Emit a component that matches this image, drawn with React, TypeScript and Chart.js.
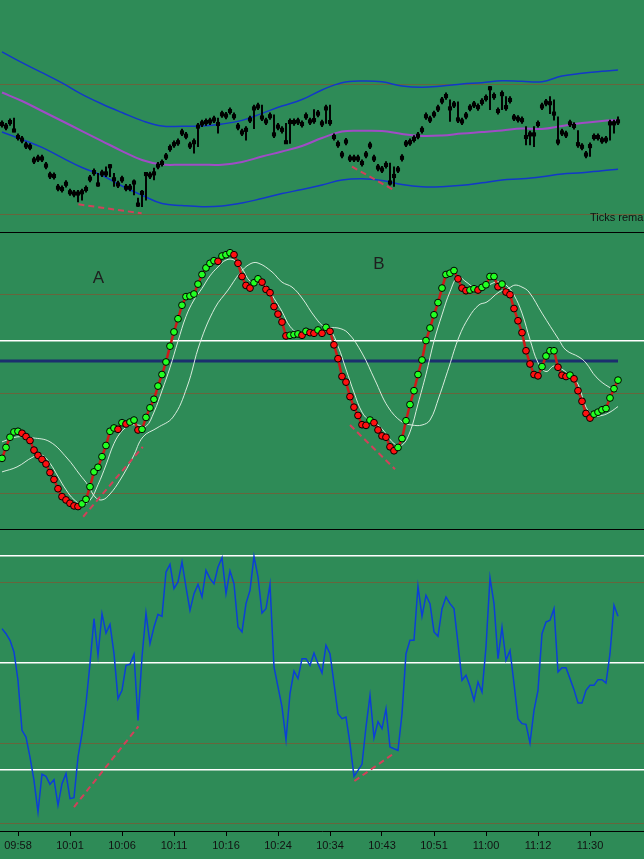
import React, { useEffect, useRef } from "react";
import { Chart, registerables } from "chart.js";

Chart.register(...registerables);

// ---------- shared ----------
const BG = "#2E8B57";
const GRID_BROWN = "rgba(150,70,40,0.55)";
const FONT = '"Liberation Sans", Arial, sans-serif';
const X_MIN = -0.5;
const X_MAX = 160.5;

const timeLabels = ["09:58", "10:01", "10:06", "10:11", "10:16", "10:24", "10:34", "10:43", "10:51", "11:00", "11:12", "11:30"];
const timeTickIdx = [4, 17, 30, 43, 56, 69, 82, 95, 108, 121, 134, 147];

// ---------- top panel: price bars ----------
const barClose = [
  2057.0, 2056.8, 2057.15, 2056.5, 2056.0, 2055.8, 2055.35, 2055.25, 2054.2, 2054.35,
  2054.35, 2053.8, 2053.05, 2053.0, 2052.1, 2052.0, 2052.4, 2051.75, 2051.65, 2051.65,
  2051.75, 2052.0, 2052.8, 2053.3, 2052.35, 2053.2, 2053.2, 2053.75, 2052.75, 2052.35,
  2052.75, 2052.1, 2052.1, 2052.5, 2050.8, 2051.7, 2053.15, 2053.05, 2053.2, 2053.8,
  2054.0, 2054.5, 2055.15, 2055.45, 2055.6, 2056.35, 2056.1, 2055.35, 2055.6, 2056.8,
  2057.05, 2057.15, 2057.2, 2057.35, 2057.0, 2057.75, 2057.65, 2058.0, 2057.6, 2056.8,
  2056.35, 2056.55, 2057.35, 2058.2, 2058.35, 2057.5, 2057.2, 2057.6, 2056.2, 2056.8,
  2056.55, 2055.6, 2057.15, 2057.15, 2057.2, 2057.0, 2057.6, 2057.2, 2057.3, 2057.8,
  2057.05, 2058.2, 2057.15, 2056.0, 2055.45, 2054.65, 2055.65, 2054.35, 2054.35, 2054.35,
  2054.0, 2054.65, 2055.35, 2054.35, 2053.65, 2053.5, 2053.85, 2052.5, 2053.0, 2053.5,
  2054.4, 2055.5, 2055.6, 2055.85, 2056.1, 2056.55, 2057.6, 2057.35, 2057.75, 2058.2,
  2058.8, 2059.15, 2058.2, 2058.5, 2057.35, 2057.2, 2057.65, 2058.25, 2058.5, 2058.3,
  2058.7, 2059.0, 2059.75, 2059.15, 2058.0, 2059.3, 2058.3, 2058.85, 2057.5, 2057.4,
  2057.3, 2056.0, 2056.2, 2056.2, 2057.0, 2058.35, 2058.65, 2058.6, 2057.8, 2055.65,
  2056.35, 2056.2, 2057.05, 2056.85, 2055.45, 2055.25, 2054.65, 2055.3, 2056.0, 2056.0,
  2055.75, 2055.8, 2057.05, 2057.05, 2057.2,
];
const barHigh = [
  2057.25, 2057.05, 2057.4, 2057.45, 2056.25, 2056.05, 2055.6, 2055.5, 2054.45, 2054.6,
  2054.6, 2054.05, 2053.3, 2053.25, 2052.35, 2052.25, 2052.65, 2052.0, 2051.9, 2051.9,
  2052.0, 2052.25, 2053.05, 2053.55, 2053.2, 2053.45, 2053.7, 2053.9, 2053.2, 2052.6,
  2053.0, 2052.35, 2052.35, 2052.7, 2051.3, 2051.9, 2053.2, 2053.3, 2053.6, 2054.05,
  2054.25, 2054.75, 2055.4, 2055.7, 2055.85, 2056.6, 2056.35, 2055.6, 2055.85, 2057.05,
  2057.3, 2057.4, 2057.45, 2057.6, 2057.45, 2058.0, 2057.9, 2058.25, 2057.85, 2057.05,
  2056.6, 2056.8, 2057.6, 2058.45, 2058.6, 2058.45, 2057.45, 2057.85, 2057.7, 2057.05,
  2056.8, 2057.05, 2057.4, 2057.4, 2057.45, 2057.25, 2057.85, 2057.45, 2058.1, 2058.05,
  2057.3, 2058.45, 2058.45, 2056.25, 2055.7, 2054.9, 2055.9, 2054.6, 2054.6, 2054.6,
  2054.25, 2054.9, 2055.6, 2054.6, 2053.9, 2053.75, 2054.1, 2054.0, 2053.7, 2053.75,
  2054.65, 2055.75, 2055.85, 2056.1, 2056.35, 2056.8, 2057.85, 2057.6, 2058.0, 2058.45,
  2059.05, 2059.4, 2058.85, 2058.75, 2058.7, 2057.45, 2057.9, 2058.5, 2058.75, 2058.55,
  2058.95, 2059.25, 2059.9, 2059.4, 2058.25, 2059.55, 2059.1, 2059.1, 2057.75, 2057.65,
  2057.55, 2056.8, 2056.45, 2056.8, 2057.25, 2058.6, 2058.9, 2059.1, 2058.85, 2057.55,
  2056.6, 2056.45, 2057.3, 2057.1, 2056.5, 2055.5, 2054.9, 2055.55, 2056.25, 2056.25,
  2056.0, 2056.05, 2057.3, 2057.3, 2057.55,
];
const barLow = [
  2056.75, 2056.55, 2056.9, 2056.4, 2055.75, 2055.55, 2055.1, 2055.0, 2053.95, 2054.1,
  2054.1, 2053.55, 2052.8, 2052.75, 2051.85, 2051.75, 2052.15, 2051.5, 2051.4, 2051.0,
  2051.15, 2051.75, 2052.55, 2053.05, 2052.2, 2052.95, 2052.95, 2052.95, 2052.2, 2052.1,
  2052.5, 2051.85, 2051.85, 2051.55, 2050.65, 2050.65, 2051.15, 2052.8, 2052.7, 2053.55,
  2053.75, 2054.25, 2054.9, 2055.2, 2055.35, 2056.1, 2055.85, 2055.1, 2054.75, 2055.25,
  2056.8, 2056.9, 2056.95, 2057.1, 2056.3, 2057.5, 2057.4, 2057.75, 2057.35, 2056.55,
  2056.1, 2055.75, 2057.1, 2056.65, 2058.1, 2057.25, 2056.95, 2057.35, 2055.95, 2056.55,
  2056.3, 2055.5, 2055.5, 2056.9, 2056.95, 2056.75, 2057.35, 2056.95, 2057.05, 2057.55,
  2056.8, 2057.05, 2056.9, 2055.75, 2055.2, 2054.4, 2055.4, 2054.1, 2054.1, 2054.1,
  2053.75, 2054.4, 2055.1, 2054.1, 2053.4, 2053.25, 2053.6, 2052.3, 2052.2, 2053.25,
  2054.15, 2055.25, 2055.35, 2055.6, 2055.85, 2056.3, 2057.35, 2057.1, 2057.5, 2057.95,
  2058.55, 2058.9, 2057.2, 2058.25, 2057.1, 2056.95, 2057.4, 2058.0, 2058.25, 2058.05,
  2058.45, 2058.75, 2058.1, 2058.9, 2057.75, 2058.1, 2058.05, 2058.6, 2057.25, 2057.15,
  2057.05, 2055.4, 2055.4, 2055.25, 2056.75, 2058.1, 2058.4, 2057.8, 2057.3, 2055.4,
  2056.1, 2055.95, 2056.8, 2056.6, 2055.2, 2055.0, 2054.4, 2054.5, 2055.75, 2055.75,
  2055.5, 2055.55, 2055.75, 2056.3, 2056.95,
];

// envelope bands sampled along the bar index
const bandIdx = [0, 5, 10, 15, 20, 25, 30, 35, 40, 45, 50, 55, 60, 65, 70, 75, 80, 85, 90, 95, 100, 105, 110, 115, 120, 125, 130, 135, 140, 145, 150, 154];
const bandUpper = [2062.55, 2061.72, 2060.95, 2060.16, 2059.28, 2058.54, 2057.88, 2057.26, 2056.84, 2056.82, 2056.85, 2057.0, 2057.28, 2057.82, 2058.38, 2058.88, 2059.62, 2060.18, 2060.31, 2060.25, 2059.92, 2059.82, 2059.92, 2060.08, 2060.18, 2060.33, 2060.28, 2060.25, 2060.69, 2060.9, 2061.05, 2061.15];
const bandMiddle = [2059.42, 2058.77, 2058.0, 2057.23, 2056.46, 2055.69, 2054.92, 2054.23, 2053.88, 2053.87, 2053.87, 2053.87, 2054.08, 2054.5, 2054.88, 2055.31, 2055.92, 2056.42, 2056.48, 2056.46, 2056.23, 2056.08, 2056.12, 2056.27, 2056.38, 2056.5, 2056.65, 2056.62, 2056.85, 2057.08, 2057.23, 2057.31];
const bandLower = [2056.38, 2055.81, 2055.2, 2054.41, 2053.65, 2053.05, 2052.23, 2051.52, 2050.88, 2050.73, 2050.64, 2050.69, 2050.92, 2051.27, 2051.65, 2051.96, 2052.31, 2052.69, 2052.79, 2052.65, 2052.35, 2052.18, 2052.18, 2052.28, 2052.48, 2052.69, 2052.79, 2052.95, 2053.15, 2053.25, 2053.41, 2053.52];

const priceGrid = [2050, 2060];
const priceDiv1X = [19.1, 34.9];
const priceDiv1Y = [2050.82, 2050.13];
const priceDiv2X = [87.5, 98.2];
const priceDiv2Y = [2053.72, 2051.87];
const topNote = "Ticks remaining = 12";

// ---------- middle panel: oscillator ----------
const oscValues = [
  30.5, 33.8, 36.9, 38.5, 38.7, 38.1, 37.1, 35.9, 33.0, 31.4,
  30.2, 28.8, 26.2, 24.1, 21.3, 18.9, 17.9, 16.9, 16.1, 15.9,
  16.7, 18.1, 21.9, 26.4, 27.8, 31.0, 34.4, 38.7, 39.7, 39.3,
  41.3, 40.9, 41.5, 42.1, 39.1, 39.3, 42.9, 45.8, 48.4, 52.4,
  55.9, 59.7, 64.5, 68.8, 72.8, 76.9, 79.5, 79.7, 80.3, 83.3,
  86.2, 88.2, 89.6, 90.4, 90.2, 91.8, 92.2, 92.8, 92.2, 89.6,
  85.6, 82.9, 82.1, 83.7, 84.9, 83.9, 81.7, 80.7, 76.5, 74.2,
  71.8, 67.6, 67.8, 68.0, 68.2, 67.8, 69.0, 68.6, 68.4, 69.4,
  68.4, 70.2, 69.0, 64.9, 60.7, 55.3, 53.6, 49.2, 46.0, 43.5,
  40.7, 40.5, 42.1, 41.3, 39.1, 37.3, 36.9, 34.0, 32.8, 33.8,
  36.5, 41.9, 46.8, 51.0, 55.9, 60.3, 66.2, 70.0, 74.0, 77.7,
  82.1, 86.2, 86.6, 87.4, 84.9, 82.1, 81.3, 81.5, 81.9, 81.5,
  82.3, 83.1, 85.6, 85.6, 82.5, 83.3, 80.9, 80.1, 75.9, 72.2,
  68.6, 63.1, 59.1, 55.9, 55.5, 58.3, 61.5, 63.1, 63.1, 58.1,
  55.7, 55.3, 55.7, 54.6, 51.0, 47.8, 44.1, 42.7, 43.9, 44.5,
  45.2, 45.6, 48.8, 51.6, 54.2,
];
const fastIdx = [0, 3.75, 7.75, 10, 12, 14, 16, 18, 20, 22, 24, 26, 28, 30, 32, 34, 36, 38, 40, 42, 44, 46, 48, 50, 52, 54, 56, 58, 60, 62, 64, 66, 68, 70, 72, 74, 76, 78, 80, 82, 84, 86, 88, 90, 92, 94, 96, 98, 100, 102, 104, 106, 108, 110, 112, 114, 116, 118, 120, 122, 124, 126, 128, 130, 132, 134, 136, 138, 140, 142, 144, 146, 148, 150, 152, 154];
const fastVal = [26.4, 27.9, 30.9, 31.5, 29, 25, 21, 18, 16.6, 17.8, 22.5, 28.5, 35, 38.8, 40.5, 40.6, 40.2, 44.5, 51, 58, 66, 73.5, 78.5, 82, 85.8, 88.5, 90.6, 90.6, 88, 84.2, 83.5, 82.8, 79, 75, 70.5, 68.5, 68.2, 68.5, 68.8, 69.2, 64.5, 57.5, 50.5, 44.5, 41.8, 40.6, 38, 35, 34.5, 38.5, 47, 56, 66, 74, 81, 85.5, 84, 82.3, 82, 83.2, 84, 83, 80, 74.5, 66.5, 59.5, 56.8, 58.5, 57.5, 55.5, 53, 46, 43.5, 43.5, 44.5, 46.2];
const slowIdx = [0, 3.75, 7.75, 12, 16.25, 19.5, 21.5, 23.25, 25, 27, 29.5, 32.75, 35.25, 38.75, 42.75, 46.25, 49.5, 53.25, 56.5, 59.5, 62, 64, 67.5, 70, 72.5, 75, 78.25, 80.75, 84, 86.5, 90, 93.25, 96.5, 100, 102.5, 105, 107, 109.25, 111.75, 114.25, 116.75, 119.25, 121.25, 124.25, 126.75, 128.25, 130, 131.75, 135, 139.25, 141, 144.25, 146, 148.5, 151.75, 154];
const slowVal = [35.5, 37.0, 36.7, 35.5, 30.6, 25.5, 22.4, 18.8, 17.9, 19.7, 23.9, 30.9, 37.0, 39.7, 43.0, 52.1, 65.5, 76.1, 81.5, 86.7, 89.4, 89.7, 87.0, 83.9, 82.4, 79.1, 73.3, 70.3, 70.0, 68.5, 62.4, 54.2, 46.1, 41.5, 40.6, 40.6, 42.1, 49.1, 58.2, 67.3, 73.3, 77.0, 77.9, 80.9, 82.1, 83.0, 82.4, 80.9, 74.5, 66.4, 63.3, 61.2, 59.4, 55.2, 52.1, 51.2];
const oscLevel = 60;
const oscGridBrown = [20, 50, 80];
const oscGridWhite = [66];
const oscDiv1X = [20.3, 35.2];
const oscDiv1Y = [12.8, 34.0];
const oscDiv2X = [87, 98.25];
const oscDiv2Y = [40.6, 27.2];
const waveLabels = ["A", "B"];
const waveLabelX = [24.1, 94.25];
const waveLabelY = [85.1, 89.2];

// ---------- bottom panel: momentum ----------
const momValues = [
  32.1, 27.4, 21.2, 10.3, -16.2, -62.9, -69.2, -87.9, -109.7, -139.3,
  -104.0, -105.9, -113.4, -109.0, -133.0, -112.8, -103.4, -126.8, -125.9, -87.9,
  -66.0, -38.0, -0.6, 41.4, 7.2, 46.1, 28.0, 36.1, 8.7, -33.3,
  -25.5, -2.2, -1.2, 8.1, -53.6, 5.6, 46.7, 18.1, 33.6, 45.5,
  43.6, 85.0, 92.2, 69.5, 75.7, 94.4, 71.0, 49.2, 64.8, 73.5,
  61.7, 86.6, 78.8, 74.1, 89.7, 98.4, 64.8, 86.0, 74.1, 33.6,
  29.0, 55.5, 67.9, 99.7, 80.4, 46.7, 50.8, 73.5, -3.7, -22.4,
  -41.1, -71.7, -28.7, -7.5, -14.6, 4.0, 4.0, -2.2, 9.3, -0.6,
  -9.3, 16.5, 8.7, -19.3, -47.4, -52.0, -50.5, -75.4, -105.9, -100.3,
  -94.7, -59.8, -30.2, -69.8, -54.8, -61.4, -42.7, -78.5, -80.1, -81.6,
  -47.4, 8.7, 21.2, 21.2, 71.7, 43.6, 63.2, 55.5, 29.0, 24.9,
  50.8, 61.7, 55.5, 50.8, 18.1, -16.2, -11.5, -21.8, -34.9, -17.8,
  -27.1, 15.0, 79.8, 55.5, 4.0, 33.6, 2.5, 11.8, -19.3, -52.0,
  -56.7, -57.3, -74.8, -44.2, -25.5, 27.4, 38.3, 39.9, 50.8, -8.4,
  -4.4, -4.4, -14.6, -24.9, -37.4, -37.4, -25.5, -20.9, -20.9, -15.6,
  -15.6, -18.7, 8.7, 53.9, 43.6,
];
const momGridBrown = [-150, -75, 75];
const momGridWhite = [-100, 0, 100];
const momDiv1X = [18, 34.1];
const momDiv1Y = [-134.6, -59.2];
const momDiv2X = [88.1, 97.5];
const momDiv2Y = [-110.3, -85.7];

// ---------- helpers ----------
const pts = (xs: number[], ys: number[]) => xs.map((x, i) => ({ x, y: ys[i] }));
const series = (ys: number[]) => ys.map((y, i) => ({ x: i, y }));

const dashed = (xs: number[], ys: number[]) => ({
  type: "line" as const,
  data: pts(xs, ys),
  borderColor: "#d2405a",
  borderWidth: 2,
  borderDash: [6, 4],
  pointRadius: 0,
  tension: 0,
});

const hiddenX = { type: "linear" as const, min: X_MIN, max: X_MAX, display: false, offset: false };

const gridY = (min: number, max: number, brown: number[], white: number[]) => ({
  type: "linear" as const,
  min,
  max,
  display: true,
  border: { display: false },
  ticks: { display: false },
  afterBuildTicks: (s: any) => {
    s.ticks = [...brown, ...white].sort((a, b) => a - b).map((v) => ({ value: v }));
  },
  grid: {
    drawTicks: false,
    color: (ctx: any) => (white.includes(ctx.tick?.value) ? "#ffffff" : GRID_BROWN),
    lineWidth: (ctx: any) => (white.includes(ctx.tick?.value) ? 1.5 : 1),
  },
});

const baseOptions = {
  responsive: false,
  animation: false as const,
  maintainAspectRatio: false,
  layout: { padding: 0, autoPadding: false },
  plugins: { legend: { display: false }, tooltip: { enabled: false } },
  events: [] as any[],
};

export default function App() {
  const topRef = useRef<HTMLCanvasElement>(null);
  const midRef = useRef<HTMLCanvasElement>(null);
  const botRef = useRef<HTMLCanvasElement>(null);

  useEffect(() => {
    const topPlugin = {
      id: "topNote",
      afterDraw(chart: any) {
        const { ctx, chartArea } = chart;
        ctx.save();
        ctx.font = `11px ${FONT}`;
        ctx.fillStyle = "#111";
        ctx.textBaseline = "alphabetic";
        ctx.fillText(topNote, chart.scales.x.getPixelForValue(timeTickIdx[11]), chartArea.bottom - 11);
        ctx.restore();
      },
    };

    const top = new Chart(topRef.current!, {
      type: "line",
      data: {
        datasets: [
          {
            type: "line",
            data: series(barClose),
            showLine: false,
            pointStyle: "rect",
            pointRadius: 2.9,
            pointBorderWidth: 0,
            pointBackgroundColor: "#000",
          } as any,
          {
            type: "bar",
            data: barClose.map((_, i) => ({ x: i, y: [barLow[i], barHigh[i]] })),
            backgroundColor: "#000",
            barThickness: 1.3,
            grouped: false,
          } as any,
          dashed(priceDiv1X, priceDiv1Y),
          dashed(priceDiv2X, priceDiv2Y),
          { type: "line", data: pts(bandIdx, bandMiddle), borderColor: "#a04cc6", borderWidth: 2, pointRadius: 0, tension: 0.4 },
          { type: "line", data: pts(bandIdx, bandUpper), borderColor: "#1238c8", borderWidth: 1.5, pointRadius: 0, tension: 0.4 },
          { type: "line", data: pts(bandIdx, bandLower), borderColor: "#1238c8", borderWidth: 1.5, pointRadius: 0, tension: 0.4 },
        ],
      },
      options: {
        ...baseOptions,
        scales: {
          x: hiddenX,
          y: gridY(2050 + (215 - 232) / 13, 2050 + 215 / 13, priceGrid, []),
        },
      } as any,
      plugins: [topPlugin],
    });

    const midPlugin = {
      id: "waveLabels",
      afterDraw(chart: any) {
        const { ctx, scales } = chart;
        ctx.save();
        ctx.font = `17px ${FONT}`;
        ctx.fillStyle = "#1e1e1e";
        ctx.textAlign = "center";
        ctx.textBaseline = "middle";
        waveLabels.forEach((t, i) => {
          ctx.fillText(t, scales.x.getPixelForValue(waveLabelX[i]), scales.y.getPixelForValue(waveLabelY[i]));
        });
        ctx.restore();
      },
    };

    const dotColors = oscValues.map((v, i) => (i === 0 || v >= oscValues[i - 1] ? "#22ff22" : "#ff1010"));

    const mid = new Chart(midRef.current!, {
      type: "line",
      data: {
        datasets: [
          {
            data: series(oscValues),
            borderColor: "#d01818",
            borderWidth: 2.5,
            pointRadius: 3.4,
            pointBorderWidth: 1,
            pointBorderColor: "#000",
            pointBackgroundColor: dotColors,
            tension: 0,
          },
          dashed(oscDiv1X, oscDiv1Y),
          dashed(oscDiv2X, oscDiv2Y),
          { data: pts(fastIdx, fastVal), borderColor: "rgba(225,240,228,0.95)", borderWidth: 1, pointRadius: 0, tension: 0.4 },
          { data: pts(slowIdx, slowVal), borderColor: "rgba(225,240,228,0.95)", borderWidth: 1, pointRadius: 0, tension: 0.4 },
          { data: pts([X_MIN, oscValues.length - 1], [oscLevel, oscLevel]), borderColor: "#1b2f6e", borderWidth: 3, pointRadius: 0 },
        ],
      },
      options: {
        ...baseOptions,
        scales: {
          x: hiddenX,
          y: gridY(50 + (394 - 529) / 3.3, 50 + (394 - 233) / 3.3, oscGridBrown, oscGridWhite),
        },
      } as any,
      plugins: [midPlugin],
    });

    const bot = new Chart(botRef.current!, {
      type: "line",
      data: {
        datasets: [
          { data: series(momValues), borderColor: "#0b3fd6", borderWidth: 1.5, pointRadius: 0, tension: 0 },
          dashed(momDiv1X, momDiv1Y),
          dashed(momDiv2X, momDiv2Y),
        ],
      },
      options: {
        ...baseOptions,
        scales: {
          x: {
            type: "linear",
            min: X_MIN,
            max: X_MAX,
            offset: false,
            afterBuildTicks: (s: any) => {
              s.ticks = timeTickIdx.map((v) => ({ value: v }));
            },
            afterFit: (s: any) => {
              s.height = 28;
            },
            ticks: {
              autoSkip: false,
              maxRotation: 0,
              padding: 3,
              color: "#111",
              font: { size: 11, family: FONT },
              callback: (_v: any, i: number) => timeLabels[i],
            },
            grid: { drawOnChartArea: false, drawTicks: true, tickLength: 5, color: "#000" },
            border: { display: true, color: "#000", width: 1 },
          },
          y: gridY((663 - 831) / 1.07, (663 - 530) / 1.07, momGridBrown, momGridWhite),
        },
      } as any,
    });

    return () => {
      top.destroy();
      mid.destroy();
      bot.destroy();
    };
  }, []);

  const cv = (top: number, h: number): React.CSSProperties => ({
    position: "absolute",
    left: 0,
    top,
    width: 644,
    height: h,
    background: BG,
    display: "block",
  });

  return (
    <div style={{ position: "fixed", left: 0, top: 0, width: 644, height: 859, background: "#000", overflow: "hidden" }}>
      <canvas ref={topRef} width={644} height={232} style={cv(0, 232)} />
      <canvas ref={midRef} width={644} height={296} style={cv(233, 296)} />
      <canvas ref={botRef} width={644} height={329} style={cv(530, 329)} />
    </div>
  );
}
